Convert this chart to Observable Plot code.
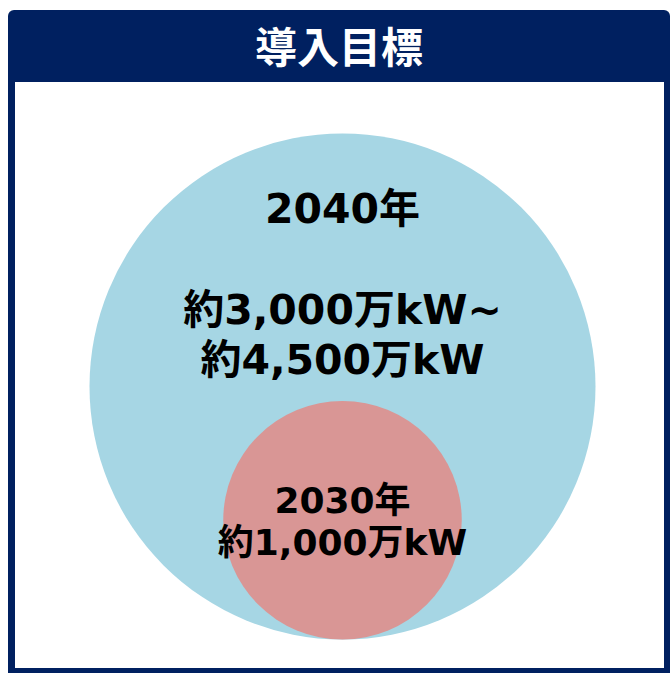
<!DOCTYPE html>
<html>
<head>
<meta charset="utf-8">
<script src="https://cdn.jsdelivr.net/npm/d3@7"></script>
<script src="https://cdn.jsdelivr.net/npm/@observablehq/plot@0.6"></script>
<style>
  html, body { margin: 0; padding: 0; background: #fff; }
  #page { position: relative; width: 670px; height: 673px; overflow: hidden; }
  #frame { position: absolute; left: 8px; top: 10px; width: 662px; height: 663px; background: #002060; border-radius: 6px 6px 0 0; }
  #title { position: absolute; left: 0; top: 0; width: 100%; height: 72px; line-height: 70px; text-align: center; color: #fff;
    font-family: "Noto Sans CJK JP", sans-serif; font-weight: 700; font-size: 42px; }
  #inner { position: absolute; left: 7px; top: 72px; width: 649px; height: 586px; background: #fff; }
  #chart { position: absolute; left: 0; top: 0; }
</style>
</head>
<body>
<div id="page">
  <div id="frame">
    <div id="title">導入目標</div>
    <div id="inner"></div>
  </div>
  <div id="chart"></div>
</div>
<script>
// Data
const years = ["2040年", "2030年"];
const capacities = [4500, 1000];            // 万kW (area-proportional circles)
const labels = ["2040年\n\n約3,000万kW~\n約4,500万kW", "2030年\n約1,000万kW"];
const fills = ["#a6d6e4", "#d99695"];

const data = years.map((y, i) => ({year: y, value: capacities[i], label: labels[i], fill: fills[i]}));

const rOpts = {type: "sqrt", domain: [0, 4500], range: [0, 253]};
const rScale = Plot.scale({r: rOpts});
const baseline = 639; // circles sit on a common bottom line
const cy = d => baseline - rScale.apply(d.value);

const chart = Plot.plot({
  width: 670,
  height: 673,
  margin: 0,
  marginLeft: 15,
  marginRight: 1,
  style: {background: "transparent", overflow: "visible"},
  x: {domain: [0, 1], axis: null},
  y: {type: "identity", axis: null},
  r: rOpts,
  marks: [
    Plot.dot(data, {x: () => 0.5, y: cy, r: "value", fill: "fill", stroke: null}),
    Plot.text(data.slice(0, 1), {
      x: () => 0.5, y: cy, dy: -104, text: "label", lineAnchor: "middle",
      fontSize: 41, fontWeight: 700, lineHeight: 1.22, fill: "#000",
      fontFamily: "'DejaVu Sans', 'Noto Sans CJK JP', sans-serif"
    }),
    Plot.text(data.slice(1), {
      x: () => 0.5, y: cy, dy: 0, text: "label", lineAnchor: "middle",
      fontSize: 36, fontWeight: 700, lineHeight: 1.19, fill: "#000",
      fontFamily: "'DejaVu Sans', 'Noto Sans CJK JP', sans-serif"
    })
  ]
});
document.getElementById("chart").appendChild(chart);
</script>
</body>
</html>
